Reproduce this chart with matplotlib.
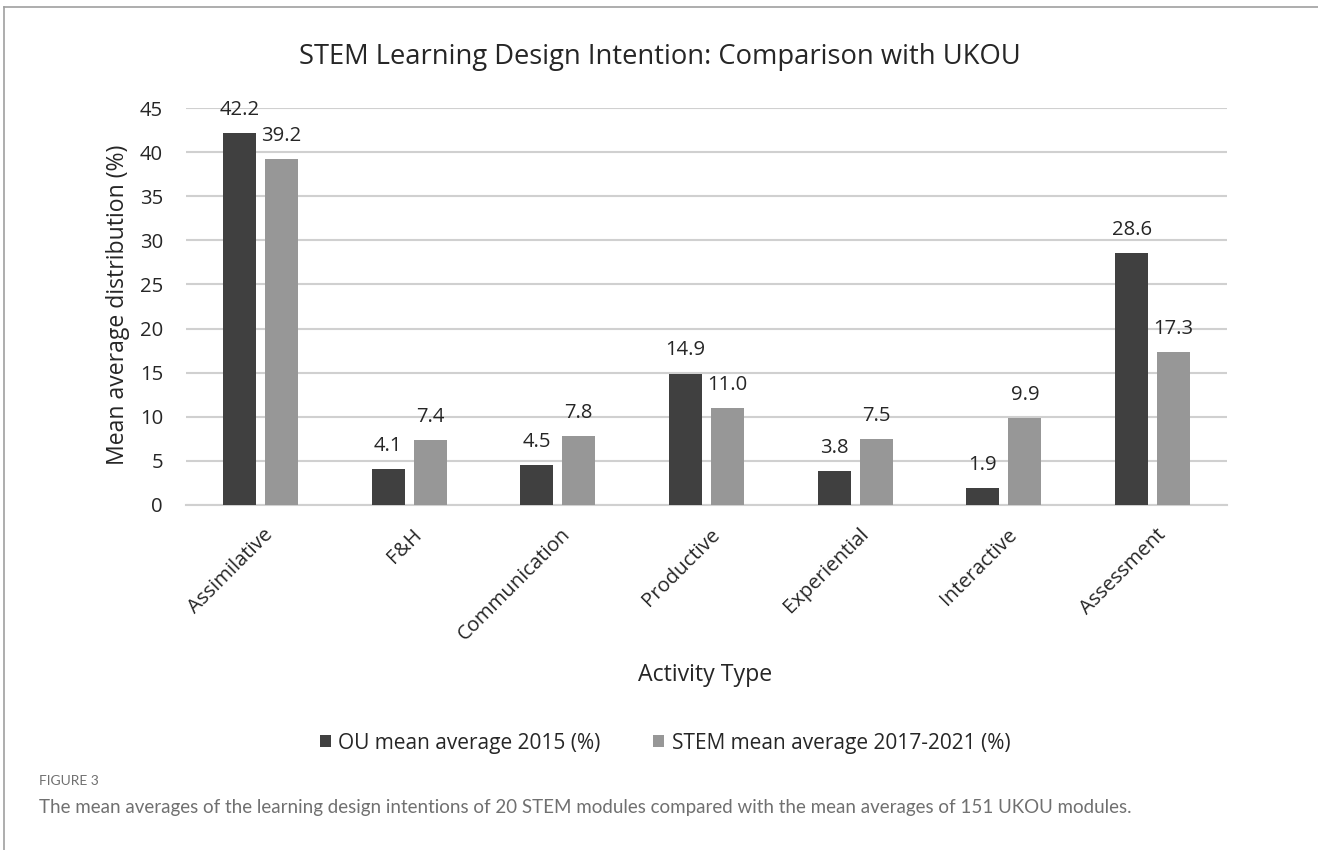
import numpy as np
from matplotlib import pyplot as plt
from matplotlib.lines import Line2D
from matplotlib.transforms import ScaledTranslation

categories = ['Assimilative', 'F&H', 'Communication', 'Productive',
              'Experiential', 'Interactive', 'Assessment']
ou_2015 = [42.2, 4.1, 4.5, 14.9, 3.8, 1.9, 28.6]
stem_1721 = [39.2, 7.4, 7.8, 11.0, 7.5, 9.9, 17.3]
series_names = ['OU mean average 2015 (%)', 'STEM mean average 2017-2021 (%)']
yticks = [0, 5, 10, 15, 20, 25, 30, 35, 40, 45]

plt.rcParams['font.family'] = ['Open Sans', 'DejaVu Sans']
W, H = 1318, 850
fig = plt.figure(figsize=(W / 100, H / 100), dpi=100)
ax = fig.add_axes([186 / W, 1 - 505 / H, (1227 - 186) / W, (505 - 108) / H])

x = np.arange(len(categories))
bw = 0.222
off = 0.141
dark, light = '#404040', '#979797'
txt = '#262626'
b1 = ax.bar(x - off, ou_2015, bw, color=dark, zorder=3, label=series_names[0])
b2 = ax.bar(x + off, stem_1721, bw, color=light, zorder=3, label=series_names[1])

# value labels above each bar
for bars, vals in ((b1, ou_2015), (b2, stem_1721)):
    for b, v in zip(bars, vals):
        ax.annotate(f'{v:.1f}', (b.get_x() + b.get_width() / 2, v),
                    xytext=(0, 13), textcoords='offset points',
                    ha='center', va='baseline', fontsize=14.6, color=txt)

ax.set_xlim(-0.5, len(categories) - 0.5)
ax.set_ylim(0, 45)
ax.set_yticks(yticks)
ax.yaxis.grid(True, color='#d0d0d0', lw=1.5, zorder=0)
ax.tick_params(axis='y', length=0, labelsize=14.6, labelcolor=txt, pad=16.5)
ax.tick_params(axis='x', length=0, labelsize=14.6, labelcolor=txt, pad=14)
ax.set_xticks(x)
ax.set_xticklabels(categories, rotation=45, ha='right', rotation_mode='anchor')
shift = ScaledTranslation(3 / 100, 0, fig.dpi_scale_trans)
for lab in ax.get_xticklabels():
    lab.set_transform(lab.get_transform() + shift)
for s in ('top', 'right', 'left'):
    ax.spines[s].set_visible(False)
ax.spines['bottom'].set_color('#d0d0d0')
ax.spines['bottom'].set_linewidth(1.5)

fig.text(118 / W, 1 - 305 / H, 'Mean average distribution (%)', rotation=90,
         ha='center', va='center', fontsize=16.6, color=txt)
fig.text(705 / W, 1 - 675 / H, 'Activity Type', ha='center', va='center',
         fontsize=16.7, color=txt)
fig.text(660 / W, 1 - 57 / H, 'STEM Learning Design Intention: Comparison with UKOU',
         ha='center', va='center', fontsize=19.7, color=txt)

fig.legend(handles=[b1, b2], loc='center', bbox_to_anchor=(665 / W, 1 - 743 / H),
           ncol=2, frameon=False, fontsize=15, handlelength=0.55, handleheight=0.55,
           handletextpad=0.35, columnspacing=2.5, labelcolor=txt,
           borderpad=0, borderaxespad=0)

cap_font = ['Lato', 'DejaVu Sans']
fig.text(39 / W, 1 - 781 / H, 'FIGURE 3', ha='left', va='center',
         fontsize=10, color='#707070', family=cap_font)
fig.text(39 / W, 1 - 808 / H,
         'The mean averages of the learning design intentions of 20 STEM modules '
         'compared with the mean averages of 151 UKOU modules.',
         ha='left', va='center', fontsize=13.5, color='#707070', family=cap_font)

fig.add_artist(Line2D([4 / W, 1], [1 - 7 / H, 1 - 7 / H], color='#a0a0a0', lw=1.2))
fig.add_artist(Line2D([4 / W, 4 / W], [0, 1 - 7 / H], color='#a0a0a0', lw=1.2))

fig.savefig('out.png', dpi=100)
